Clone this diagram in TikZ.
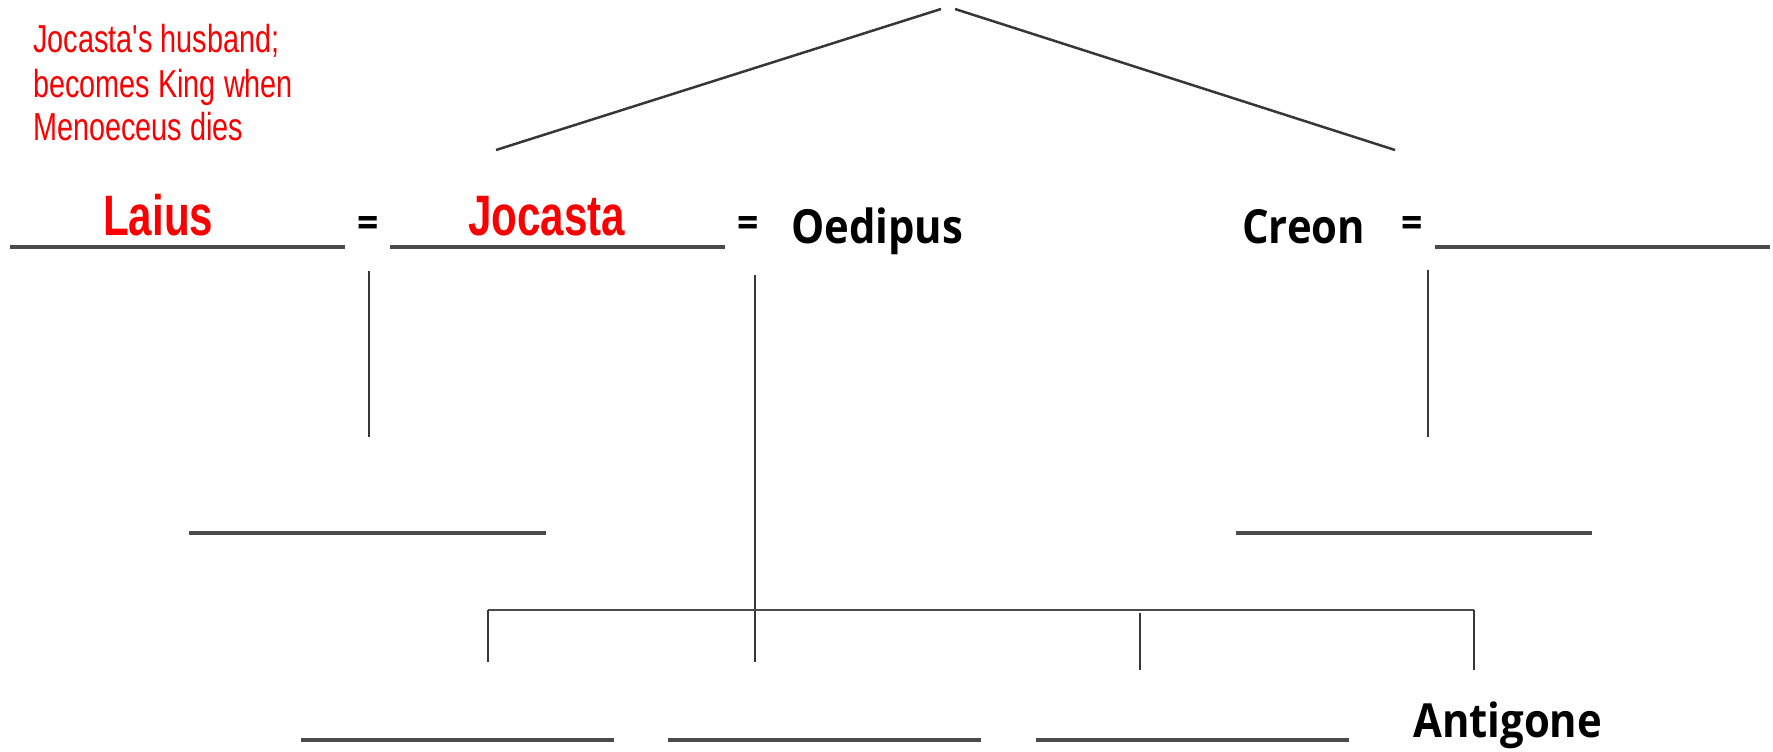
\documentclass[tikz,border=0pt]{standalone}
\usepackage{fontspec}
\newfontfamily\namefont[FakeStretch=0.89]{Open Sans}
\newfontfamily\handfont[FakeStretch=0.74]{Liberation Sans}
\definecolor{ink}{RGB}{75,75,75}
\definecolor{linkink}{RGB}{55,55,55}
\definecolor{notered}{RGB}{250,0,0}
\begin{document}
\begin{tikzpicture}[x=1pt,y=-1pt,
  slot/.style={line width=3.4pt, draw=ink},
  link/.style={line width=2pt, draw=linkink},
  diag/.style={line width=2.5pt, draw=linkink},
  person/.style={font=\namefont\bfseries\fontsize{47}{52}\selectfont, inner sep=0pt, anchor=base west},
  redname/.style={font=\handfont\bfseries\fontsize{57}{60}\selectfont, text=notered, inner sep=0pt, anchor=base west},
  noteline/.style={font=\handfont\fontsize{39}{44}\selectfont, text=notered, inner sep=0pt, anchor=base west},
  eqsign/.style={font=\namefont\bfseries\fontsize{42}{44}\selectfont, inner sep=0pt}]
\useasboundingbox (0,0) rectangle (1773,752);

% annotation
\node[noteline] (note1) at (33,53) {Jocasta's husband;};
\node[noteline] (note2) at (33,97) {becomes King when};
\node[noteline] (note3) at (33,140) {Menoeceus dies};

% names
\node[redname] (laius) at (103,235) {Laius};
\node[redname] (jocasta) at (468,235) {Jocasta};
\node[person] (oedipus) at (791,243) {Oedipus};
\node[person] (creon) at (1242,243) {Creon};
\node[person] (antigone) at (1413,737) {Antigone};

% marriage signs
\node[eqsign] (eq1) at (368,227) {=};
\node[eqsign] (eq2) at (748,227) {=};
\node[eqsign] (eq3) at (1412,227) {=};

% coordinates
\coordinate (laiusL) at (10,247);   \coordinate (laiusR) at (345,247);
\coordinate (jocL) at (390,247);    \coordinate (jocR) at (725,247);
\coordinate (creonwL) at (1435,247); \coordinate (creonwR) at (1770,247);
\coordinate (apexL) at (941,9);     \coordinate (apexR) at (955,9);
\coordinate (parL) at (496,150);    \coordinate (parR) at (1395,150);
\coordinate (d1top) at (369,271);   \coordinate (d1bot) at (369,437);
\coordinate (d2top) at (755,275);   \coordinate (d2bot) at (755,662);
\coordinate (d3top) at (1428,270);  \coordinate (d3bot) at (1428,437);
\coordinate (c1L) at (189,533);     \coordinate (c1R) at (546,533);
\coordinate (c2L) at (1236,533);    \coordinate (c2R) at (1592,533);
\coordinate (barL) at (488,610);    \coordinate (barR) at (1474,610);
\coordinate (k1bot) at (488,662);
\coordinate (k3top) at (1140,613);  \coordinate (k3bot) at (1140,670);
\coordinate (k4bot) at (1474,670);
\coordinate (s1L) at (301,740);     \coordinate (s1R) at (614,740);
\coordinate (s2L) at (668,740);     \coordinate (s2R) at (981,740);
\coordinate (s3L) at (1036,740);    \coordinate (s3R) at (1349,740);

% blank name slots
\draw[slot] (laiusL) -- (laiusR);
\draw[slot] (jocL) -- (jocR);
\draw[slot] (creonwL) -- (creonwR);
\draw[slot] (c1L) -- (c1R);
\draw[slot] (c2L) -- (c2R);
\draw[slot] (s1L) -- (s1R);
\draw[slot] (s2L) -- (s2R);
\draw[slot] (s3L) -- (s3R);

% parent lines
\draw[diag] (parL) -- (apexL);
\draw[diag] (apexR) -- (parR);

% descent lines
\draw[link] (d1top) -- (d1bot);
\draw[link] (d2top) -- (d2bot);
\draw[link] (d3top) -- (d3bot);
\draw[slot, line width=2.8pt] (barL) -- (barR);
\draw[link] (barL) -- (k1bot);
\draw[link] (k3top) -- (k3bot);
\draw[link] (barR) -- (k4bot);
\end{tikzpicture}
\end{document}
